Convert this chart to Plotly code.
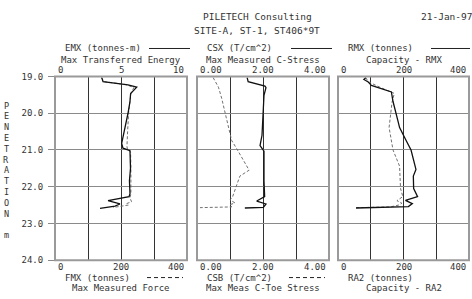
import plotly.graph_objects as go

# ---------------- data ----------------
emx_depth = [19.03, 19.14, 19.23, 19.29, 19.46, 19.68, 20.0, 20.4, 20.82, 20.95, 21.02, 21.5, 21.84, 22.19, 22.27, 22.38, 22.47, 22.53, 22.59]
emx_vals = [3.54, 3.64, 5.53, 6.19, 5.73, 5.68, 5.53, 5.30, 5.05, 5.15, 5.68, 5.72, 5.64, 5.68, 5.61, 4.02, 4.92, 4.55, 3.41]

fmx_depth = [19.03, 19.14, 19.22, 19.30, 19.46, 19.70, 20.0, 20.5, 20.9, 21.0, 21.05, 21.5, 21.85, 22.2, 22.3, 22.41, 22.46, 22.5, 22.55, 22.57]
fmx_vals = [141, 148, 215, 239, 230, 227, 223, 220, 218, 220, 229, 230, 230, 230, 227, 232, 217, 222, 187, 176]

csx_depth = [19.03, 19.14, 19.26, 19.30, 19.51, 20.21, 20.6, 20.88, 21.03, 21.84, 22.27, 22.39, 22.47, 22.56, 22.58]
csx_vals = [1.52, 1.55, 2.06, 2.09, 2.03, 1.99, 1.97, 1.91, 2.03, 2.03, 2.05, 1.81, 2.09, 2.01, 1.45]

csb_depth = [19.03, 19.29, 19.6, 19.9, 20.21, 20.39, 20.74, 20.96, 21.55, 21.71, 21.97, 22.27, 22.36, 22.44, 22.49, 22.55, 22.57]
csb_vals = [0.49, 0.65, 0.75, 0.83, 0.90, 0.95, 1.05, 1.20, 1.58, 1.30, 1.20, 1.08, 1.00, 1.15, 1.00, 1.05, 0.09]

rmx_depth = [19.03, 19.08, 19.14, 19.24, 19.42, 19.68, 20.21, 20.39, 20.74, 21.0, 21.53, 21.71, 22.05, 22.27, 22.37, 22.46, 22.54, 22.58]
rmx_vals = [85, 79, 91, 102, 163, 168, 183, 188, 208, 223, 238, 230, 231, 243, 206, 227, 215, 55]

ra2_depth = [19.03, 19.14, 19.30, 19.46, 19.7, 19.86, 20.21, 20.39, 21.0, 21.44, 22.05, 22.27, 22.38, 22.45, 22.5, 22.55, 22.57]
ra2_vals = [85, 92, 130, 172, 165, 163, 158, 156, 168, 188, 191, 198, 180, 195, 185, 160, 55]

depth_ticks = [19.0, 20.0, 21.0, 22.0, 23.0, 24.0]
emx_ticks, emx_ticklabels = [0, 5, 10], ["0", "5", "10"]
fmx_ticks, fmx_ticklabels = [0, 200, 400], ["0", "200", "400"]
csx_ticks, csx_ticklabels = [0, 2, 4], ["0.00", "2.00", "4.00"]
csb_ticks, csb_ticklabels = [0, 2, 4], ["0.00", "2.00", "4.00"]
rmx_ticks, rmx_ticklabels = [0, 200, 400], ["0", "200", "400"]
ra2_ticks, ra2_ticklabels = [0, 200, 400], ["0", "200", "400"]

title1 = "PILETECH Consulting"
title2 = "SITE-A, ST-1, ST406*9T"
date_text = "21-Jan-97"
top_labels = [("EMX (tonnes-m)", "Max Transferred Energy"),
              ("CSX (T/cm^2)", "Max Measured C-Stress"),
              ("RMX (tonnes)", "Capacity - RMX")]
bot_labels = [("FMX (tonnes)", "Max Measured Force"),
              ("CSB (T/cm^2)", "Max Meas C-Toe Stress"),
              ("RA2 (tonnes)", "Capacity - RA2")]
ylab_letters = list("PENETRATION") + ["", "m"]

# ---------------- layout geometry ----------------
W, H = 472, 299
FONT = "DejaVu Sans Mono"
TXT = "#333333"
FS = 9

def px(x):
    return x / W

def py(y):
    return 1 - y / H

panels_px = [(55, 187), (197, 329), (338, 469)]
y_top, y_bot = 74, 264
ydom = [py(y_bot), py(y_top)]

fig = go.Figure()

bottom_series = [(fmx_vals, fmx_depth), (csb_vals, csb_depth), (ra2_vals, ra2_depth)]
top_series = [(emx_vals, emx_depth), (csx_vals, csx_depth), (rmx_vals, rmx_depth)]
for i in range(3):
    xb = "x" if i == 0 else f"x{i+1}"
    yy = "y" if i == 0 else f"y{i+1}"
    xt = f"x{i+4}"
    v, d = bottom_series[i]
    fig.add_trace(go.Scatter(x=v, y=d, xaxis=xb, yaxis=yy, mode="lines",
                             line=dict(color="#707070", width=1, dash="3px,2px"),
                             showlegend=False, hoverinfo="skip"))
    v, d = top_series[i]
    fig.add_trace(go.Scatter(x=v, y=d, xaxis=xt, yaxis=yy, mode="lines",
                             line=dict(color="#111111", width=1.3),
                             showlegend=False, hoverinfo="skip"))

bot_ranges = [[0, 400], [0, 4], [0, 400]]
top_ranges = [[0, 10], [0, 4], [0, 400]]
bot_dticks = [100, 1, 100]

layout = dict(
    width=W, height=H, margin=dict(l=0, r=0, t=0, b=0),
    paper_bgcolor="white", plot_bgcolor="white",
    font=dict(family=FONT, size=FS, color=TXT),
    showlegend=False,
)
for i in range(3):
    l, r = panels_px[i]
    dom = [px(l), px(r)]
    kb = "xaxis" if i == 0 else f"xaxis{i+1}"
    ky = "yaxis" if i == 0 else f"yaxis{i+1}"
    kt = f"xaxis{i+4}"
    yname = "y" if i == 0 else f"y{i+1}"
    xbname = "x" if i == 0 else f"x{i+1}"
    layout[kb] = dict(domain=dom, range=bot_ranges[i], anchor=yname, side="bottom",
                      showgrid=True, gridcolor="#333333", gridwidth=1, dtick=bot_dticks[i], tick0=0,
                      showticklabels=False, ticks="", zeroline=False, showline=False)
    layout[kt] = dict(domain=dom, range=top_ranges[i], anchor=yname, side="top",
                      overlaying=xbname, showgrid=False, showticklabels=False, ticks="",
                      zeroline=False, showline=False)
    layout[ky] = dict(domain=ydom, range=[24, 19], anchor=xbname,
                      tickvals=depth_ticks, showgrid=True, gridcolor="#8a8a8a", gridwidth=1.3,
                      zeroline=False, showline=False,
                      showticklabels=(i == 0), ticks="outside" if i == 0 else "",
                      ticklen=6, tickcolor="#8a8a8a", tickwidth=1.3,
                      tickformat=".1f", ticklabelstandoff=3,
                      tickfont=dict(family=FONT, size=FS, color=TXT))
fig.update_layout(**layout)

shapes = []
annotations = []

for i in range(3):
    xb = "x" if i == 0 else f"x{i+1}"
    yy = "y" if i == 0 else f"y{i+1}"
    shapes.append(dict(type="rect", xref=f"{xb} domain", yref=f"{yy} domain",
                       x0=0, x1=1, y0=0, y1=1, line=dict(color="#9a9a9a", width=2),
                       layer="above"))

def ann(text, x, y, xanchor="center", xref="paper", size=FS, xshift=0):
    annotations.append(dict(text=text, x=x, y=y, xref=xref, yref="paper",
                            xanchor=xanchor, yanchor="middle", showarrow=False,
                            xshift=xshift,
                            font=dict(family=FONT, size=size, color=TXT)))

ann(title1, px(257), py(12), size=9.5)
ann(title2, px(257), py(26), size=9.5)
ann(date_text, px(419), py(12), xanchor="left", size=9.5)

top_tick_sets = [(emx_ticks, emx_ticklabels), (csx_ticks, csx_ticklabels), (rmx_ticks, rmx_ticklabels)]
bot_tick_sets = [(fmx_ticks, fmx_ticklabels), (csb_ticks, csb_ticklabels), (ra2_ticks, ra2_ticklabels)]
anchors = ["left", "center", "right"]
shifts = [1, 0, -1]
for i in range(3):
    tv, tl = top_tick_sets[i]
    for j, (v, t) in enumerate(zip(tv, tl)):
        ann(t, v, py(67), xanchor=anchors[j], xref=f"x{i+4}", xshift=shifts[j])
    tv, tl = bot_tick_sets[i]
    xb = "x" if i == 0 else f"x{i+1}"
    for j, (v, t) in enumerate(zip(tv, tl)):
        ann(t, v, py(271), xanchor=anchors[j], xref=xb, xshift=shifts[j])

for i in range(3):
    l, r = panels_px[i]
    c = (l + r) / 2
    name, desc = top_labels[i]
    ann(name, px(l + 8), py(45), xanchor="left")
    shapes.append(dict(type="line", xref="paper", yref="paper",
                       x0=px(r - 38), x1=px(min(r + 3, 470)), y0=py(45), y1=py(45),
                       line=dict(color="#222222", width=1)))
    ann(desc, px(c), py(57))
    name, desc = bot_labels[i]
    ann(name, px(l + 8), py(282), xanchor="left")
    if i < 2:
        shapes.append(dict(type="line", xref="paper", yref="paper",
                           x0=px(r - 40), x1=px(r - 4), y0=py(282), y1=py(282),
                           line=dict(color="#222222", width=1, dash="4px,3px")))
    ann(desc, px(c), py(293))

for k, ch in enumerate(ylab_letters):
    if ch:
        ann(ch, px(6), py(104 + k * 11.2), size=8.5)

fig.update_layout(shapes=shapes, annotations=annotations)
fig.write_html("out.html", config={"displayModeBar": False},
               post_script="document.body.style.margin='0';document.body.style.overflow='hidden';")
